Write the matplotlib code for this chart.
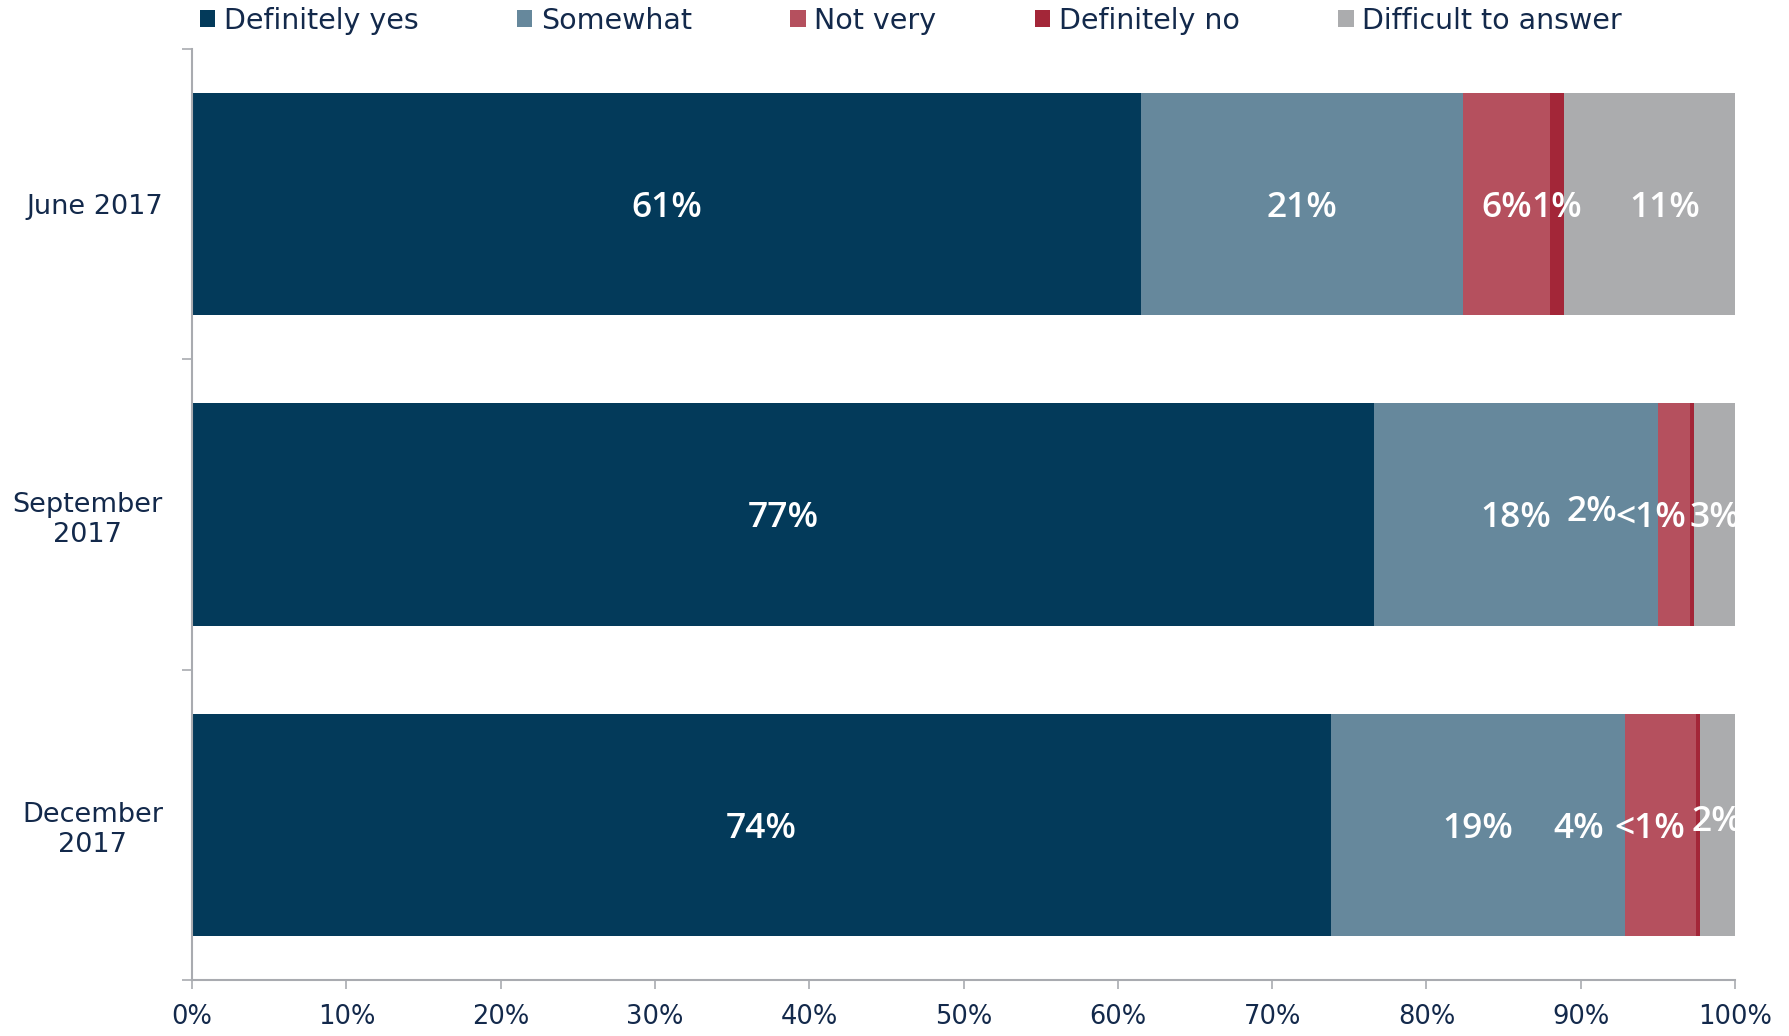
"""
Stacked horizontal bar chart: survey answers by wave (June / September / December 2017).
"""

import matplotlib.pyplot as plt
import numpy as np
from matplotlib.ticker import FixedLocator, PercentFormatter


# data (shares in %)
waves = ["June 2017", "September\n2017", "December\n2017"]
answers = ["Definitely yes", "Somewhat", "Not very", "Definitely no", "Difficult to answer"]

definitely_yes = [61.5, 76.6, 73.8]
somewhat = [20.9, 18.4, 19.1]
not_very = [5.6, 2.1, 4.6]
definitely_no = [0.9, 0.25, 0.2]
difficult = [11.1, 2.65, 2.3]

# printed labels (rounded by the source, "<1%" cannot be derived)
labels_definitely_yes = ["61%", "77%", "74%"]
labels_somewhat = ["21%", "18%", "19%"]
labels_not_very = ["6%", "2%", "4%"]
labels_definitely_no = ["1%", "<1%", "<1%"]
labels_difficult = ["11%", "3%", "2%"]

COLORS = ["#033a5a", "#66889c", "#b5505e", "#a32638", "#abacae"]
TEXT_COLOR = "#13294b"
AXIS_COLOR = "#a9abb0"

# nudges for labels of thin segments (x in %, y in bar units)
LABEL_DX = [
    [0, 0, 0, 0, 1.0],
    [0, 0, -5.3, -2.7, 0],
    [0, 0, -5.3, -3.1, 0],
]
LABEL_DY = [
    [0, 0, 0, 0, 0],
    [0, 0, -0.02, 0, 0],
    [0, 0, 0, 0, -0.02],
]


def main() -> None:
    series = [definitely_yes, somewhat, not_very, definitely_no, difficult]
    labels = [labels_definitely_yes, labels_somewhat, labels_not_very,
              labels_definitely_no, labels_difficult]

    fig = plt.figure(figsize=(17.9, 10.36), dpi=100)
    ax = fig.add_axes([0.1073, 0.054, 0.862, 0.8987])

    y = np.arange(len(waves))
    left = np.zeros(len(waves))
    handles = []
    for i, (values, name) in enumerate(zip(series, answers)):
        values = np.array(values)
        bars = ax.barh(y, values, left=left, height=0.716, color=COLORS[i],
                       label=name, linewidth=0)
        handles.append(bars)
        for j in range(len(waves)):
            cx = left[j] + values[j] / 2 + LABEL_DX[j][i]
            cy = y[j] + 0.012 + LABEL_DY[j][i]
            ax.text(cx, cy, labels[i][j], ha="center", va="center",
                    color="white", fontsize=25.5, family="Open Sans",
                    fontweight="semibold", clip_on=True)
        left += values

    ax.set_xlim(0, 100)
    ax.set_ylim(2.5, -0.5)

    ax.xaxis.set_major_locator(FixedLocator(np.arange(0, 101, 10)))
    ax.xaxis.set_major_formatter(PercentFormatter(decimals=0))

    ax.set_yticks(y)
    ax.set_yticklabels(waves, multialignment="center")
    ax.yaxis.set_minor_locator(FixedLocator([-0.5, 0.5, 1.5, 2.5]))

    ax.tick_params(axis="y", which="major", length=0, pad=21,
                   labelsize=19.5, labelcolor=TEXT_COLOR)
    ax.tick_params(axis="y", which="minor", length=7, width=1.2,
                   color=AXIS_COLOR, direction="out")
    ax.tick_params(axis="x", length=6.5, width=1.2, color=AXIS_COLOR,
                   pad=11, labelsize=18.5, labelcolor=TEXT_COLOR)

    for side in ["top", "right"]:
        ax.spines[side].set_visible(False)
    for side in ["left", "bottom"]:
        ax.spines[side].set_color(AXIS_COLOR)
        ax.spines[side].set_linewidth(1.5)

    leg = fig.legend(handles=handles, loc="center left", ncol=5,
                     bbox_to_anchor=(0.1115, 0.980), frameon=False,
                     fontsize=20.5, handlelength=0.55, handleheight=0.55,
                     handletextpad=0.3, columnspacing=3.45,
                     borderaxespad=0, borderpad=0)
    for text in leg.get_texts():
        text.set_color(TEXT_COLOR)

    fig.savefig("out.png", dpi=100)
    plt.close(fig)


if __name__ == "__main__":
    main()
